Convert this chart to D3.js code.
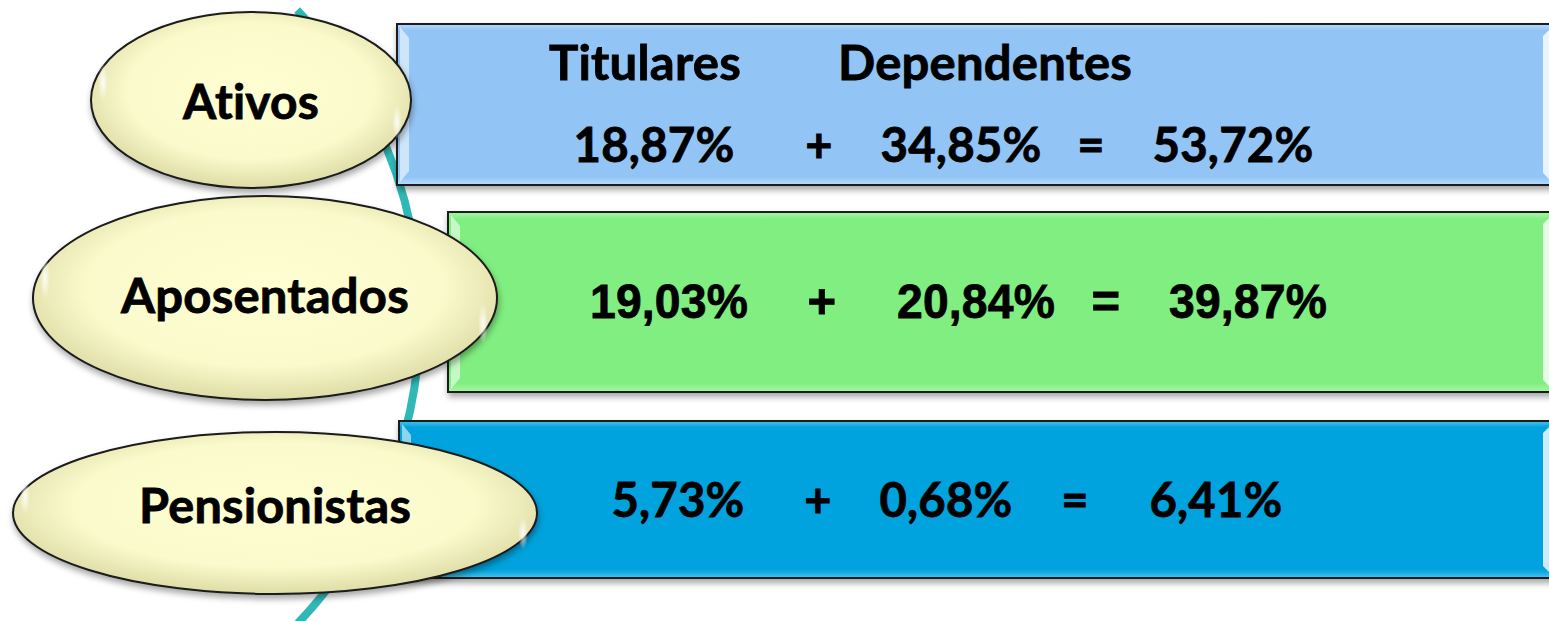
<!DOCTYPE html>
<html>
<head>
<meta charset="utf-8">
<script src="https://cdn.jsdelivr.net/npm/d3@7"></script>
<style>
  html, body { margin: 0; padding: 0; background: #fff; overflow: hidden; }
  svg { display: block; }
  text { font-variant-ligatures: none; font-feature-settings: "liga" 0, "clig" 0, "dlig" 0; letter-spacing: 0.2px; }
</style>
</head>
<body>
<svg id="chart" width="1549" height="621"></svg>
<script>
// data
const categories = ["Ativos", "Aposentados", "Pensionistas"];
const titulares = [18.87, 19.03, 5.73];
const dependentes = [34.85, 20.84, 0.68];
const totais = [53.72, 39.87, 6.41];
const headers = ["Titulares", "Dependentes"];

// layout (not data)
const W = 1549, H = 621;
const boxes = [
  { x0: 397, y0: 24, y1: 185, fill: "#92c5f5", light: "#b9dcfb" },
  { x0: 448, y0: 212, y1: 392, fill: "#80ee80", light: "#a8f5a8" },
  { x0: 399, y0: 421, y1: 578, fill: "#05a3dd", light: "#46c3f0" }
];
const ellipses = [
  { cx: 251, cy: 100, rx: 160, ry: 88, base: 119, tw: 136 },
  { cx: 265, cy: 298, rx: 232, ry: 102, base: 313, tw: 288 },
  { cx: 275, cy: 513, rx: 262, ry: 81, base: 523, tw: 272 }
];
// x centres of: titulares, +, dependentes, =, total
const cols = [
  [654, 819, 961, 1091, 1233],
  [669, 822, 976, 1106, 1248],
  [678, 818, 946, 1075, 1216]
];
const rowBase = [162, 318, 517];
const numW = [161, 158, 133];
const headerX = [645, 985], headerW = [192, 294], headerBase = 80;

const fmt = v => d3.format(".2f")(v).replace(".", ",") + "%";

const svg = d3.select("#chart");
const defs = svg.append("defs");

const shadow = defs.append("filter").attr("id", "shadow")
  .attr("x", "-5%").attr("y", "-10%").attr("width", "115%").attr("height", "130%");
shadow.append("feDropShadow").attr("dx", 1).attr("dy", 4)
  .attr("stdDeviation", 3).attr("flood-color", "#000").attr("flood-opacity", 0.35);

const eg = defs.append("radialGradient").attr("id", "egg")
  .attr("cx", "50%").attr("cy", "45%").attr("r", "55%");
eg.append("stop").attr("offset", "0%").attr("stop-color", "#fefed2");
eg.append("stop").attr("offset", "70%").attr("stop-color", "#fafacc");
eg.append("stop").attr("offset", "100%").attr("stop-color", "#dedca6");

const glint = defs.append("radialGradient").attr("id", "glint");
glint.append("stop").attr("offset", "0%").attr("stop-color", "#fff").attr("stop-opacity", 1);
glint.append("stop").attr("offset", "100%").attr("stop-color", "#fff").attr("stop-opacity", 0);

boxes.forEach((b, i) => {
  const g = defs.append("linearGradient").attr("id", "bg" + i)
    .attr("x1", 0).attr("y1", 0).attr("x2", 0).attr("y2", 1);
  g.append("stop").attr("offset", "0%").attr("stop-color", b.light);
  g.append("stop").attr("offset", "4%").attr("stop-color", b.fill);
  g.append("stop").attr("offset", "95%").attr("stop-color", b.fill);
  g.append("stop").attr("offset", "100%").attr("stop-color", b.light);
});

// teal arc behind everything
const arcCx = -25, arcCy = 317, arcR = 445;
const yScale = d3.scaleLinear().domain([0, H]).range([0, H]);
const a0 = Math.asin((yScale(10) - arcCy) / arcR);
const a1 = Math.asin((yScale(H + 10) - arcCy) / arcR);
const p = d3.path();
p.arc(arcCx, arcCy, arcR, a0, a1, false);
svg.append("path").attr("d", p.toString())
  .attr("fill", "none").attr("stroke", "#2fb8b6").attr("stroke-width", 8);

// boxes
const boxG = svg.append("g").selectAll("g").data(boxes).join("g");
boxG.append("rect")
  .attr("x", d => d.x0).attr("y", d => d.y0)
  .attr("width", d => W + 10 - d.x0).attr("height", d => d.y1 - d.y0)
  .attr("fill", (d, i) => `url(#bg${i})`)
  .attr("stroke", "#1a1a1a").attr("stroke-width", 2)
  .attr("filter", "url(#shadow)");
// bevel highlights
boxG.append("path")
  .attr("d", d => `M${d.x0 + 3},${d.y0 + 3} L${d.x0 + 12},${d.y0 + 14} L${d.x0 + 12},${d.y1 - 14} L${d.x0 + 3},${d.y1 - 3} Z`)
  .attr("fill", "#ffffff").attr("opacity", 0.55);
boxG.append("path")
  .attr("d", d => `M${W - 6},${d.y0 + 12} L${W},${d.y0 + 6} L${W},${d.y1 - 6} L${W - 6},${d.y1 - 12} Z`)
  .attr("fill", "#ffffff").attr("opacity", 0.8);

// ellipses
const ellG = svg.append("g").selectAll("g").data(ellipses).join("g");
ellG.append("ellipse")
  .attr("cx", d => d.cx).attr("cy", d => d.cy)
  .attr("rx", d => d.rx).attr("ry", d => d.ry)
  .attr("fill", "url(#egg)")
  .attr("stroke", "#1a1a1a").attr("stroke-width", 2)
  .attr("filter", "url(#shadow)");
ellG.append("ellipse")
  .attr("cx", d => d.cx - d.rx + 12).attr("cy", d => d.cy - d.ry * 0.2)
  .attr("rx", 5).attr("ry", d => d.ry * 0.22)
  .attr("fill", "url(#glint)").attr("opacity", 0.9);
ellG.append("ellipse")
  .attr("cx", d => d.cx + d.rx - 14).attr("cy", d => d.cy + d.ry * 0.25)
  .attr("rx", 5).attr("ry", d => d.ry * 0.2)
  .attr("fill", "url(#glint)").attr("opacity", 0.9);
ellG.append("text")
  .attr("x", d => d.cx).attr("y", d => d.base)
  .attr("text-anchor", "middle")
  .attr("textLength", d => d.tw).attr("lengthAdjust", "spacingAndGlyphs")
  .attr("font-family", "Lato, 'Open Sans', sans-serif")
  .attr("font-weight", 700).attr("font-size", 47).attr("fill", "#000")
  .attr("stroke", "#000").attr("stroke-width", 0.8)
  .text((d, i) => categories[i]);

// header row
svg.append("g").selectAll("text").data(headers).join("text")
  .attr("x", (d, i) => headerX[i]).attr("y", headerBase)
  .attr("text-anchor", "middle")
  .attr("textLength", (d, i) => headerW[i]).attr("lengthAdjust", "spacingAndGlyphs")
  .attr("font-family", "Lato, 'Open Sans', sans-serif")
  .attr("font-weight", 700).attr("font-size", 47).attr("fill", "#000")
  .attr("stroke", "#000").attr("stroke-width", 0.8)
  .text(d => d);

// equation rows
const rows = categories.map((c, i) => [
  { t: fmt(titulares[i]), num: true },
  { t: "+", num: false },
  { t: fmt(dependentes[i]), num: true },
  { t: "=", num: false },
  { t: fmt(totais[i]), num: true }
]);

rows.forEach((row, i) => {
  const narrow = i === 1;
  svg.append("g").selectAll("text").data(row).join("text")
    .attr("x", (d, j) => cols[i][j]).attr("y", rowBase[i])
    .attr("text-anchor", "middle")
    .attr("textLength", d => d.num ? numW[i] : null)
    .attr("lengthAdjust", "spacingAndGlyphs")
    .attr("font-family", narrow ? "'Liberation Sans Narrow', 'Liberation Sans', Arial, sans-serif" : "Lato, 'Open Sans', sans-serif")
    .attr("font-weight", 700)
    .attr("font-size", narrow ? 49 : 47)
    .attr("fill", "#000")
    .attr("stroke", "#000").attr("stroke-width", 0.8)
    .text(d => d.t);
});
</script>
</body>
</html>
